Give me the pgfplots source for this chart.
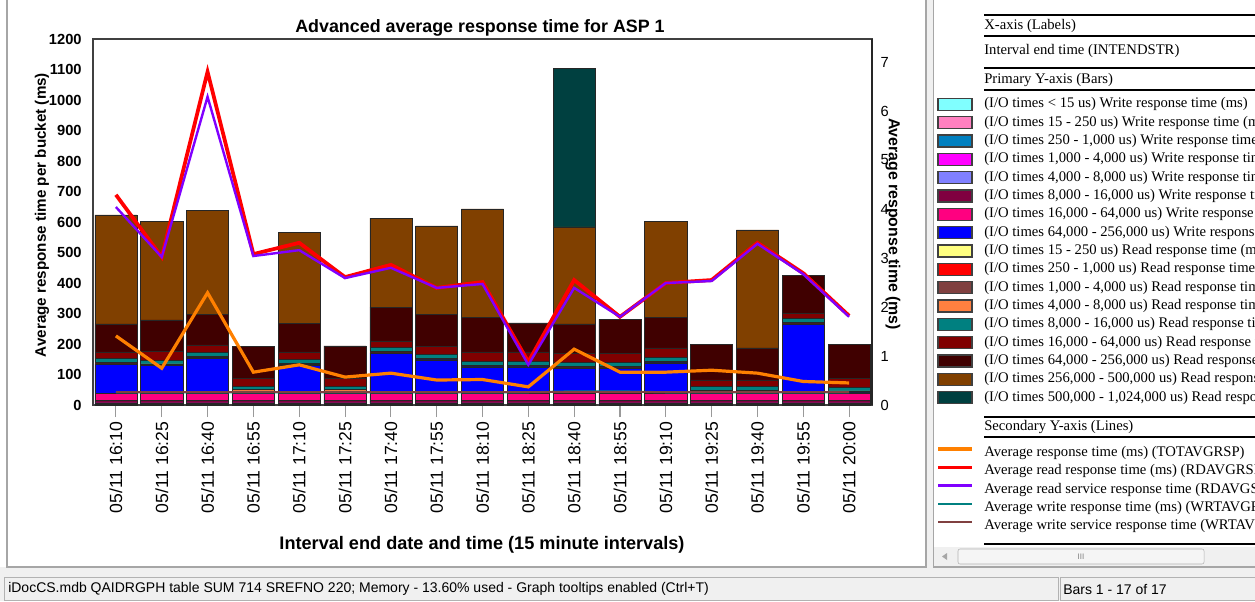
\documentclass[border=0pt]{standalone}
\usepackage{pgfplots}
\usepackage{pgfplotstable}
\pgfplotsset{compat=1.18}
\usepackage{fontspec}
\setmainfont{Liberation Sans}
\newfontfamily\serifleg{Liberation Serif}
\definecolor{c1}{HTML}{80FFFF}
\definecolor{c2}{HTML}{FF80C0}
\definecolor{c3}{HTML}{0080C0}
\definecolor{c4}{HTML}{FF00FF}
\definecolor{c5}{HTML}{8080FF}
\definecolor{c6}{HTML}{800040}
\definecolor{c7}{HTML}{FF0080}
\definecolor{c8}{HTML}{0000FF}
\definecolor{c9}{HTML}{FFFF80}
\definecolor{c10}{HTML}{FF0000}
\definecolor{c11}{HTML}{804040}
\definecolor{c12}{HTML}{FF8040}
\definecolor{c13}{HTML}{008080}
\definecolor{c14}{HTML}{800000}
\definecolor{c15}{HTML}{400000}
\definecolor{c16}{HTML}{804000}
\definecolor{c17}{HTML}{004040}
\definecolor{lorange}{HTML}{FF8000}
\definecolor{lred}{HTML}{FF0000}
\definecolor{lpurple}{HTML}{8000FF}
\definecolor{lteal}{HTML}{008080}
\definecolor{lbrown}{HTML}{804040}
\definecolor{uigray}{HTML}{F0F0F0}

\pgfplotstableread{
x s1 s2 s3 s4 s5 s6 s7 s8 s9 s10 s11 s12 s13 s14 s15 s16 s17
0 0 1 2 3 1 8 22 97 0 1 1 4 12 22 92 357 0
1 0 1 2 3 1 8 22 92 0 1 1 4 12 28 104 324 0
2 0 1 2 3 1 8 22 117 0 1 1 4 12 25 101 341 0
3 0 1 2 3 1 8 22 7 0 1 1 4 12 26 105 0 0
4 0 1 2 3 1 8 22 94 0 1 1 4 12 25 94 299 0
5 0 1 2 3 1 8 22 7 0 1 1 4 12 26 106 0 0
6 0 1 2 3 1 8 22 133 0 1 1 4 12 22 111 292 0
7 0 1 2 3 1 8 22 111 0 1 1 4 12 25 107 289 0
8 0 1 2 3 1 8 22 88 0 1 1 4 12 31 114 355 0
9 0 1 2 3 1 8 22 88 0 1 1 4 12 31 95 0 0
10 0 1 2 3 1 8 22 84 0 1 1 4 12 31 96 318 521
11 0 1 2 3 1 8 22 84 0 1 1 4 12 31 111 0 0
12 0 1 2 3 1 8 22 101 0 1 1 4 12 31 101 315 0
13 0 1 2 3 1 8 22 5 0 1 1 4 12 22 118 0 0
14 0 1 2 3 1 8 22 5 0 1 1 4 12 22 105 387 0
15 0 1 2 3 1 8 22 228 0 1 1 4 12 18 125 0 0
16 0 1 2 3 1 8 22 3 0 1 1 4 12 30 112 0 0
}\bars

\pgfplotstableread{
x tot rd rdsrv wr wrsrv
0 1.41 4.29 4.04 0.26 0.26
1 0.75 3.02 3.02 0.26 0.26
2 2.29 6.80 6.29 0.26 0.26
3 0.67 3.08 3.04 0.26 0.26
4 0.82 3.31 3.16 0.26 0.26
5 0.57 2.61 2.59 0.26 0.26
6 0.65 2.86 2.80 0.26 0.26
7 0.51 2.39 2.39 0.26 0.26
8 0.52 2.51 2.47 0.26 0.26
9 0.37 0.88 0.82 0.26 0.26
10 1.14 2.55 2.39 0.28 0.26
11 0.67 1.80 1.80 0.28 0.26
12 0.67 2.49 2.49 0.26 0.26
13 0.71 2.55 2.53 0.26 0.26
14 0.65 3.31 3.29 0.26 0.26
15 0.48 2.69 2.67 0.26 0.26
16 0.45 1.82 1.80 0.26 0.26
}\lines

\newcommand\legbox[3]{%
  \filldraw[fill=#2,draw=black!75,line width=0.9pt] (938,#1-6) rectangle (972,#1+6);
  \node[anchor=west,inner sep=0pt,font=\serifleg\fontsize{11}{11}\selectfont] at (984,#1) {#3};}
\newcommand\legline[4]{%
  \draw[#2,line width=#3] (938,#1-4) -- (972,#1-4);
  \node[anchor=west,inner sep=0pt,font=\serifleg\fontsize{11}{11}\selectfont] at (984,#1) {#4};}

\begin{document}
\begin{tikzpicture}
\path[use as bounding box] (0pt,0pt) rectangle (941.25pt,450.75pt);
\fill[white] (0pt,0pt) rectangle (941.25pt,450.75pt);

\begin{scope}[shift={(0pt,450.75pt)}, x=0.75pt, y=-0.75pt]
% window chrome
\fill[uigray] (0,567) rectangle (1255,601);
\fill[uigray] (926,0) rectangle (933,567);
\draw[gray!70,line width=1pt] (7,0) -- (7,567) -- (926,567) -- (926,0);
\draw[gray!70,line width=1pt] (933.5,0) -- (933.5,567) -- (1255,567);
\fill[uigray] (934,547) rectangle (1255,566);
\draw[gray!60,rounded corners=1.5pt,fill=gray!8] (958,549) rectangle (1204,564);
\node[font=\fontsize{6}{6}\selectfont,text=gray] at (1081,556.5) {III};
\fill[gray!70] (942,556.5) -- (947,553) -- (947,560) -- cycle;
% status bar
\draw[gray!60,line width=0.75pt] (4,577) rectangle (1058,600);
\draw[gray!60,line width=0.75pt] (1060,577) rectangle (1256,600);
\node[anchor=west,inner sep=0pt,font=\fontsize{10.5}{11}\selectfont] at (8,589) {iDocCS.mdb QAIDRGPH table SUM 714 SREFNO 220; Memory - 13.60\% used - Graph tooltips enabled (Ctrl+T)};
\node[anchor=west,inner sep=0pt,font=\fontsize{10.5}{11}\selectfont] at (1063,589) {Bars 1 - 17 of 17};
\end{scope}

\begin{axis}[
  at={(69.75pt,147pt)}, anchor=south west,
  scale only axis, width=584.25pt, height=274.5pt,
  xmin=-0.5, xmax=16.5, ymin=0, ymax=1200,
  ybar stacked, bar width=0.92,
  axis line style={black!75, line width=0.8pt},
  ytick={0,100,...,1200},
  /pgf/number format/assume math mode=true,
  /pgf/number format/1000 sep={},
  yticklabel style={font=\bfseries\fontsize{11}{11}\selectfont, xshift=4pt},
  ytick style={draw=none},
  xtick={0,...,16},
  xticklabels={05/11 16:10,05/11 16:25,05/11 16:40,05/11 16:55,05/11 17:10,05/11 17:25,05/11 17:40,05/11 17:55,05/11 18:10,05/11 18:25,05/11 18:40,05/11 18:55,05/11 19:10,05/11 19:25,05/11 19:40,05/11 19:55,05/11 20:00},
  xticklabel style={rotate=90, anchor=east, font=\fontsize{13.2}{13}\selectfont},
  xtick pos=bottom, tick align=outside,
  xtick style={draw=gray!80, line width=0.8pt},
  major tick length=9pt,
]
\pgfplotsinvokeforeach{1,...,17}{
  \addplot[fill=c#1, draw=black!85, line width=0.4pt] table[x=x,y=s#1]{\bars};
}
\end{axis}

\begin{axis}[
  at={(69.75pt,147pt)}, anchor=south west,
  scale only axis, width=584.25pt, height=274.5pt,
  xmin=-0.5, xmax=16.5, ymin=0, ymax=7.469,
  axis y line*=right, axis x line=none,
  axis line style={black!85, line width=1pt},
  ytick={0,...,7},
  /pgf/number format/assume math mode=true,
  yticklabel style={font=\fontsize{11}{11}\selectfont, xshift=3pt},
  ytick style={draw=none},
]
\addplot[lorange, line width=2.4pt] table[x=x,y=tot]{\lines};
\addplot[lred, line width=2.8pt] table[x=x,y=rd]{\lines};
\addplot[lpurple, line width=1.8pt] table[x=x,y=rdsrv]{\lines};
\addplot[lteal, line width=1.5pt] table[x=x,y=wr]{\lines};
\addplot[lbrown, line width=1.5pt] table[x=x,y=wrsrv]{\lines};
\end{axis}

\begin{scope}[shift={(0pt,450.75pt)}, x=0.75pt, y=-0.75pt]
% titles
\node[font=\bfseries\fontsize{13.4}{14}\selectfont] at (480,28) {Advanced average response time for ASP 1};
\node[font=\bfseries\fontsize{13.6}{14}\selectfont] at (482,545) {Interval end date and time (15 minute intervals)};
\node[font=\bfseries\fontsize{11.4}{12}\selectfont, rotate=90] at (42,215) {Average response time per bucket (ms)};
\node[font=\bfseries\fontsize{11.9}{12}\selectfont, rotate=-90] at (893,224) {Average response time (ms)};

% legend panel
\begin{scope}
\clip (934,0) rectangle (1255,546);
\foreach \yy in {15,36,68,90,417,437,544} {\draw[black,line width=1.5pt] (984,\yy) -- (1260,\yy);}
\node[anchor=west,inner sep=0pt,font=\serifleg\fontsize{11}{11}\selectfont] at (984,26) {X-axis (Labels)};
\node[anchor=west,inner sep=0pt,font=\serifleg\fontsize{11}{11}\selectfont] at (984,51) {Interval end time (INTENDSTR)};
\node[anchor=west,inner sep=0pt,font=\serifleg\fontsize{11}{11}\selectfont] at (984,80) {Primary Y-axis (Bars)};
\node[anchor=west,inner sep=0pt,font=\serifleg\fontsize{11}{11}\selectfont] at (984,427) {Secondary Y-axis (Lines)};
\legbox{104.3}{c1}{(I/O times < 15 us) Write response time (ms)}
\legbox{122.6}{c2}{(I/O times 15 - 250 us) Write response time (ms)}
\legbox{141.0}{c3}{(I/O times 250 - 1,000 us) Write response time (ms)}
\legbox{159.3}{c4}{(I/O times 1,000 - 4,000 us) Write response time (ms)}
\legbox{177.6}{c5}{(I/O times 4,000 - 8,000 us) Write response time (ms)}
\legbox{196.0}{c6}{(I/O times 8,000 - 16,000 us) Write response time (ms)}
\legbox{214.3}{c7}{(I/O times 16,000 - 64,000 us) Write response time (ms)}
\legbox{232.6}{c8}{(I/O times 64,000 - 256,000 us) Write response time (ms)}
\legbox{251.0}{c9}{(I/O times 15 - 250 us) Read response time (ms)}
\legbox{269.3}{c10}{(I/O times 250 - 1,000 us) Read response time (ms)}
\legbox{287.6}{c11}{(I/O times 1,000 - 4,000 us) Read response time (ms)}
\legbox{306.0}{c12}{(I/O times 4,000 - 8,000 us) Read response time (ms)}
\legbox{324.3}{c13}{(I/O times 8,000 - 16,000 us) Read response time (ms)}
\legbox{342.6}{c14}{(I/O times 16,000 - 64,000 us) Read response time (ms)}
\legbox{361.0}{c15}{(I/O times 64,000 - 256,000 us) Read response time (ms)}
\legbox{379.3}{c16}{(I/O times 256,000 - 500,000 us) Read response time (ms)}
\legbox{397.6}{c17}{(I/O times 500,000 - 1,024,000 us) Read response time (ms)}
\legline{453}{lorange}{2.6pt}{Average response time (ms) (TOTAVGRSP)}
\legline{471.3}{lred}{2.6pt}{Average read response time (ms) (RDAVGRSP)}
\legline{489.6}{lpurple}{2.4pt}{Average read service response time (RDAVGSRV)}
\legline{508}{lteal}{2.2pt}{Average write response time (ms) (WRTAVGRSP)}
\legline{526.3}{lbrown}{1.5pt}{Average write service response time (WRTAVSRV)}
\end{scope}
\end{scope}
\end{tikzpicture}
\end{document}
